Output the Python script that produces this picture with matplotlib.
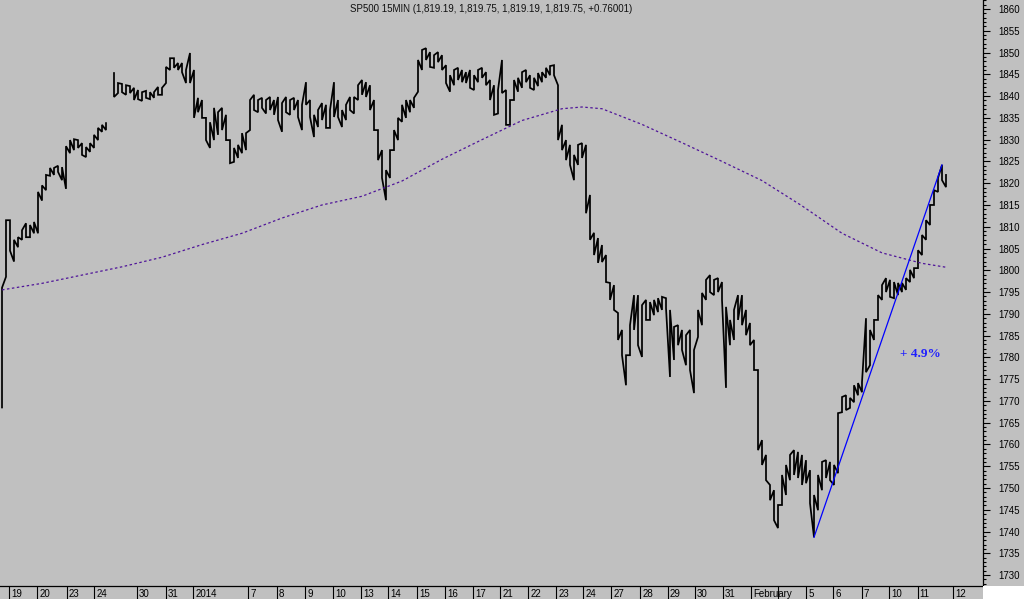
import numpy as np
import matplotlib
matplotlib.use("Agg")
import matplotlib.pyplot as plt
from matplotlib.ticker import MultipleLocator
from matplotlib.patches import Rectangle

# SP500 15-min bars, resampled to ~hourly slots (high / low)
nan = np.nan
hi = [1796.0, 1811.5, 1811.5, 1807.0, 1807.6, 1809.2, 1810.8, 1810.4, 1811.1, 1818.0,
      1819.5, 1821.9, 1823.5, 1823.5, 1824.0, 1823.7, 1828.5, 1829.9, 1830.1, 1829.9,
      1829.2, 1828.3, 1829.2, 1831.1, 1832.7, 1833.4, 1833.8, nan, 1845.3, 1843.0,
      1842.8, 1842.5, 1842.3, 1841.9, 1841.4, 1840.9, 1841.2, 1840.9, 1840.9, 1842.1,
      1841.9, 1846.7, 1848.7, 1848.7, 1847.6, 1847.6, 1846.0, 1849.9, 1846.0, 1839.6,
      1839.1, 1835.0, 1834.0, 1837.3, 1836.3, 1837.3, 1835.7, 1829.9, 1828.1, 1828.8,
      1831.5, 1831.5, 1839.1, 1840.3, 1839.1, 1839.6, 1839.1, 1839.8, 1839.1, 1839.8,
      1838.4, 1839.8, 1839.1, 1839.6, 1839.1, 1838.0, 1843.2, 1839.1, 1835.7, 1836.8,
      1838.4, 1838.0, 1836.8, 1843.2, 1839.1, 1836.8, 1838.0, 1839.8, 1839.8, 1842.5,
      1843.7, 1843.2, 1842.5, 1839.1, 1832.2, 1827.6, 1823.0, 1827.6, 1832.2, 1835.0,
      1838.0, 1839.1, 1839.1, 1839.6, 1848.3, 1850.6, 1851.0, 1850.1, 1849.4, 1850.1,
      1849.4, 1847.1, 1844.8, 1846.0, 1846.5, 1846.0, 1845.5, 1846.0, 1844.8, 1846.0,
      1846.5, 1845.5, 1843.7, 1842.5, 1841.4, 1848.3, 1841.4, 1839.1, 1843.7, 1844.2,
      1845.5, 1846.0, 1844.8, 1844.2, 1845.3, 1845.5, 1846.5, 1846.9, 1847.1, 1842.5,
      1833.4, 1829.9, 1828.8, 1826.5, 1828.8, 1829.2, 1828.8, 1817.3, 1808.6, 1807.4,
      1805.8, 1803.5, 1797.1, 1796.6, 1790.2, 1786.3, 1780.5, 1787.4, 1794.3, 1794.3,
      1792.0, 1793.2, 1792.7, 1793.2, 1793.6, 1793.9, 1793.6, 1790.9, 1787.0, 1787.4,
      1786.3, 1785.1, 1786.3, 1781.7, 1790.9, 1794.8, 1797.8, 1798.9, 1797.8, 1798.2,
      1797.3, 1791.6, 1788.6, 1790.9, 1794.3, 1794.3, 1790.9, 1787.9, 1784.0, 1777.1,
      1761.0, 1757.6, 1750.7, 1749.5, 1746.1, 1753.0, 1755.3, 1757.6, 1758.7, 1758.3,
      1757.6, 1756.4, 1754.1, 1748.4, 1753.0, 1756.0, 1756.4, 1756.0, 1755.3, 1767.2,
      1770.9, 1771.3, 1770.7, 1773.6, 1774.1, 1774.3, 1789.0, 1786.3, 1788.6, 1794.3,
      1796.6, 1798.2, 1797.8, 1797.3, 1797.1, 1797.1, 1798.2, 1800.1, 1800.5, 1804.6,
      1808.1, 1811.5, 1815.0, 1818.4, 1821.2, 1824.2, 1821.9]
lo = [1768.5, 1798.5, 1804.5, 1802.0, 1805.3, 1807.0, 1807.6, 1807.6, 1808.5, 1808.5,
      1816.0, 1818.4, 1821.7, 1821.9, 1822.6, 1820.7, 1818.7, 1826.9, 1827.6, 1828.1,
      1826.5, 1826.0, 1827.2, 1828.1, 1829.9, 1831.8, 1832.2, nan, 1839.8, 1840.7,
      1840.9, 1840.3, 1840.7, 1839.1, 1839.3, 1838.9, 1839.6, 1839.3, 1839.6, 1840.3,
      1840.3, 1843.0, 1846.0, 1846.5, 1846.0, 1845.5, 1843.0, 1843.0, 1835.0, 1836.3,
      1835.0, 1829.9, 1828.1, 1829.9, 1831.1, 1832.2, 1829.9, 1824.6, 1824.9, 1825.8,
      1826.9, 1827.6, 1832.2, 1836.8, 1836.3, 1837.3, 1836.0, 1836.8, 1835.7, 1834.5,
      1831.8, 1836.3, 1835.7, 1836.8, 1835.2, 1832.2, 1838.0, 1835.2, 1830.6, 1832.9,
      1834.5, 1832.7, 1832.7, 1835.2, 1835.2, 1832.9, 1834.5, 1836.8, 1836.0, 1839.1,
      1840.3, 1839.8, 1836.8, 1832.2, 1825.3, 1821.2, 1816.1, 1821.2, 1827.6, 1829.9,
      1834.1, 1835.0, 1836.3, 1837.3, 1841.0, 1846.0, 1848.3, 1846.7, 1846.5, 1847.8,
      1846.0, 1843.0, 1841.0, 1842.5, 1843.7, 1843.2, 1843.0, 1841.9, 1841.4, 1843.2,
      1844.2, 1842.5, 1839.1, 1835.7, 1836.0, 1840.7, 1833.4, 1833.4, 1839.1, 1841.0,
      1841.9, 1843.2, 1841.9, 1841.4, 1842.3, 1843.2, 1844.2, 1844.8, 1844.8, 1829.9,
      1827.6, 1825.3, 1824.2, 1820.7, 1824.2, 1825.8, 1813.1, 1807.0, 1803.5, 1801.7,
      1801.9, 1797.3, 1793.2, 1790.9, 1784.0, 1780.5, 1773.6, 1780.5, 1786.3, 1782.8,
      1780.1, 1788.6, 1788.6, 1789.7, 1790.4, 1790.9, 1791.3, 1775.5, 1779.4, 1782.8,
      1781.7, 1778.2, 1777.1, 1771.8, 1784.7, 1787.4, 1793.2, 1795.0, 1794.3, 1795.0,
      1793.2, 1773.0, 1782.8, 1784.0, 1788.6, 1787.4, 1785.1, 1782.8, 1777.1, 1758.7,
      1755.3, 1751.8, 1747.2, 1742.6, 1740.8, 1746.1, 1748.4, 1751.8, 1753.0, 1752.3,
      1750.7, 1751.1, 1746.5, 1738.7, 1744.9, 1749.5, 1752.3, 1751.8, 1750.7, 1753.4,
      1767.4, 1767.9, 1768.4, 1769.7, 1771.3, 1772.0, 1776.6, 1778.2, 1784.0, 1788.6,
      1793.2, 1795.0, 1793.9, 1793.6, 1794.3, 1795.0, 1795.5, 1797.3, 1798.2, 1800.5,
      1803.5, 1807.0, 1810.4, 1815.0, 1818.0, 1820.7, 1819.1]

# moving average (dotted purple), read at a few slots
ma_slot = [0, 10, 20, 30, 40, 50, 60, 70, 80, 90, 100, 110, 120, 130, 140, 145,
           150, 160, 170, 180, 190, 200, 210, 220, 230, 236]
ma_val = [1795.5, 1797.0, 1798.9, 1800.8, 1803.0, 1805.9, 1808.5, 1812.0, 1815.0,
          1817.0, 1820.5, 1825.5, 1830.0, 1834.4, 1837.1, 1837.5, 1837.1, 1833.5,
          1829.3, 1825.0, 1820.6, 1814.8, 1808.5, 1804.0, 1801.6, 1800.7]

# day separators on the time axis (slot units)
day_pos = [1.75, 8.8, 16.2, 23.1, 33.7, 40.9, 47.8, 61.6, 68.7, 75.75, 82.8, 89.7,
           96.6, 103.7, 110.75, 117.7, 124.5, 131.6, 138.5, 145.3, 152.25, 159.5,
           166.4, 173.25, 180.2, 187.2, 194.1, 201, 207.8, 214.9, 221.8, 228.9, 237.8]
day_lab = ["19", "20", "23", "24", "30", "31", "2014", "7", "8", "9", "10", "13",
           "14", "15", "16", "17", "21", "22", "23", "24", "27", "28", "29", "30",
           "31", "February", "", "5", "6", "7", "10", "11", "12"]

trend_start, trend_end = 203, 235   # low -> high slots for the blue trend line

title = "SP500 15MIN (1,819.19, 1,819.75, 1,819.19, 1,819.75, +0.76001)"

BG = "#c0c0c0"
plt.rcParams["font.family"] = ["Liberation Sans", "DejaVu Sans"]

hi = np.array(hi)
lo = np.array(lo)
n = len(hi)

fig = plt.figure(figsize=(10.24, 5.99), dpi=100, facecolor=BG)
ax = fig.add_axes([0, 13 / 599, 983 / 1024, 586 / 599], facecolor=BG)
fig.patches.append(Rectangle((983 / 1024, 0), 1 - 983 / 1024, 13 / 599,
                             transform=fig.transFigure, facecolor="white",
                             edgecolor="none", zorder=0))

# price path: vertical high-low stroke per slot, joined to the next slot
xs, ys = [], []
for i in range(n):
    if np.isnan(hi[i]):
        xs.append(np.nan); ys.append(np.nan)
        continue
    j = i + 1 if i + 1 < n and not np.isnan(hi[i + 1]) else i
    up = hi[j] + lo[j] >= hi[i] + lo[i]
    a, b = (lo[i], hi[i]) if up else (hi[i], lo[i])
    xs += [i, i]
    ys += [a, b]
ax.plot(xs, ys, color="black", lw=1.25, solid_joinstyle="miter")

ax.plot(ma_slot, ma_val, color="#4f1499", lw=0.9, ls=(0, (2, 2)))

ax.plot([trend_start, trend_end], [lo[trend_start], hi[trend_end]],
        color="#0000ff", lw=0.9)
ax.text(229.5, 1780.8, "+ 4.9%", color="#1f1fff", fontsize=9.5, fontweight="bold",
        family="Liberation Serif", ha="center", va="center")

ax.set_xlim(-0.5, 245.25)
ax.set_ylim(1727.5, 1862.07)

for s in ("top", "left"):
    ax.spines[s].set_visible(False)
for s in ("right", "bottom"):
    ax.spines[s].set_color("black")
    ax.spines[s].set_linewidth(0.9)

ax.yaxis.tick_right()
ax.set_yticks(range(1730, 1861, 5))
ax.yaxis.set_minor_locator(MultipleLocator(1))
ax.tick_params(axis="y", which="major", length=5, width=0.8, pad=6, labelsize=7,
               colors="black")
ax.tick_params(axis="y", which="minor", length=2.4, width=0.8, colors="black")

ax.set_xticks(day_pos)
ax.set_xticklabels([])
ax.tick_params(axis="x", which="major", length=10, width=0.8, colors="black")
for p, lab in zip(day_pos, day_lab):
    ax.annotate(lab, xy=(p, 0), xycoords=("data", "axes fraction"),
                xytext=(1.5, -5.8), textcoords="offset points",
                ha="left", va="center", fontsize=7, color="black",
                annotation_clip=False)

fig.text(491 / 1024, 1 - 8.5 / 599, title, ha="center", va="center",
         fontsize=7, color="#111111")

fig.savefig("out.png", dpi=100, facecolor=BG)
plt.close(fig)
